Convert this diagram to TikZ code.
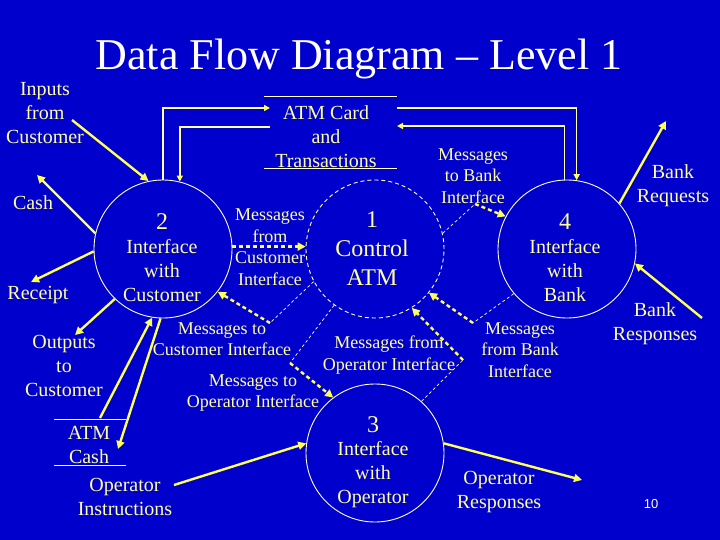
\documentclass[tikz,border=0pt]{standalone}
\usepackage{fontspec}
\setmainfont{Liberation Serif}
\newfontfamily\numfont{Liberation Sans}
\usetikzlibrary{arrows.meta}
\definecolor{bgblue}{RGB}{0,0,204}
\definecolor{txtc}{RGB}{255,255,153}
\definecolor{arrc}{RGB}{255,255,90}
\definecolor{circc}{RGB}{255,255,210}
\begin{document}
\begin{tikzpicture}[x=1pt,y=-1pt,
  lbl/.style={text=txtc, align=center, inner sep=0pt, font=\fontsize{20}{24}\selectfont},
  msg/.style={text=txtc, align=center, inner sep=0pt, font=\fontsize{18}{21.5}\selectfont},
  big/.style={text=txtc, align=center, inner sep=0pt, font=\fontsize{24}{29}\selectfont},
  proc/.style={circle, draw=circc, line width=0.9pt, minimum size=138pt, inner sep=0pt},
  flow/.style={draw=arrc, line width=2.4pt, -{Triangle[length=8pt,width=8pt]}},
  sflow/.style={draw=txtc, line width=1.6pt, -{Triangle[length=6pt,width=6pt,color=arrc]}},
  dflow/.style={draw=arrc, line width=2.4pt, dash pattern=on 4pt off 3pt, -{Triangle[length=8pt,width=8pt]}},
  leader/.style={draw=circc, line width=0.7pt, dash pattern=on 3pt off 2.5pt},
  storeline/.style={draw=circc, line width=0.9pt}]
\fill[bgblue] (0,0) rectangle (720,540);
\useasboundingbox (0,0) rectangle (720,540);

% title
\node[text=white, inner sep=0pt, font=\fontsize{44}{50}\selectfont] (title) at (359,59) {Data Flow Diagram -- Level 1};

% processes
\node[proc] (c2) at (163,249) {};
\node[proc, dash pattern=on 4pt off 3pt] (c1) at (375,249) {};
\node[proc] (c4) at (567,249) {};
\node[proc] (c3) at (375,453) {};

\node[big] (t2n) at (162,222) {2};
\node[lbl] (t2) at (162,271) {Interface\\with\\Customer};
\node[big] (t1) at (372,249) {1\\Control\\ATM};
\node[big] (t4n) at (565,222) {4};
\node[lbl] (t4) at (565,271) {Interface\\with\\Bank};
\node[big] (t3n) at (373,425) {3};
\node[lbl] (t3) at (373,475) {Interface\\with\\Operator};

% data stores
\node[lbl] (s1) at (326,137) {ATM Card\\and\\Transactions};
\draw[storeline] (264,96) -- (397,96);
\draw[storeline] (264,168) -- (397,168);
\node[lbl] (s2) at (89,445) {ATM\\Cash};
\draw[storeline] (54,419) -- (126,419);
\draw[storeline] (54,465) -- (126,465);

% external labels
\node[lbl] (inp) at (45,113) {Inputs\\from\\Customer};
\node[lbl] (cash) at (33,203) {Cash};
\node[lbl] (rec) at (38,295) {Receipt};
\node[lbl] (outp) at (64,366) {Outputs\\to\\Customer};
\node[lbl] (opi) at (125,497) {Operator\\Instructions};
\node[lbl] (opr) at (499,492) {Operator\\Responses};
\node[lbl] (breq) at (673,186) {Bank\\Requests};
\node[lbl] (bres) at (655,324) {Bank\\Responses};
\node[text=white, inner sep=0pt, font=\numfont\fontsize{13}{15}\selectfont] (pg) at (651,504) {10};

% message labels
\node[msg] (m1t) at (270,247) {Messages\\from\\Customer\\Interface};
\node[msg] (m2t) at (222,339) {Messages to\\Customer Interface};
\node[msg] (m3t) at (253,393) {Messages to\\Operator Interface};
\node[msg] (m4t) at (389,355) {Messages from\\Operator Interface};
\node[msg] (m5t) at (520,350) {Messages\\from Bank\\Interface};
\node[msg] (m6t) at (473,176) {Messages\\to Bank\\Interface};

% coordinates
\coordinate (pInp) at (72,120);
\coordinate (pCash) at (37,175);
\coordinate (pRec) at (31,282);
\coordinate (pOut) at (75,335);
\coordinate (pS2in) at (100,418);
\coordinate (pS2out) at (118,449);
\coordinate (pOpi) at (174,485);
\coordinate (pOpr) at (582,480);
\coordinate (pBreq) at (666,121);
\coordinate (pBres) at (702,318);
\coordinate (a1) at (270,108);
\coordinate (b1) at (270,127);
\coordinate (a2) at (397,108);
\coordinate (b2) at (397,126);
\coordinate (m1) at (270,323);
\coordinate (m2) at (290,363);
\coordinate (m3) at (463,360);
\coordinate (m4) at (473,323);
\coordinate (m5) at (475,204);

% external flows
\draw[flow] (pInp) -- (c2.102);
\draw[flow] (c2.167) -- (pCash);
\draw[flow] (c2.182) -- (pRec);
\draw[flow] (c2.226) -- (pOut);
\draw[flow] (pS2in) -- (c2.261);
\draw[flow] (c2.268) -- (pS2out);
\draw[flow] (pOpi) -- (c3.172);
\draw[flow] (c3.8) -- (pOpr);
\draw[flow] (c4.41) -- (pBreq);
\draw[flow] (pBres) -- (c4.348);

% store connections
\draw[sflow] (c2.north) |- (a1);
\draw[sflow] (b1) -| (c2.76);
\draw[sflow] (a2) -| (c4.82.5);
\draw[sflow] (c4.92.5) |- (b2);

% control flows
\draw[dflow] (c2.2) -- (c1.178);
\draw[leader] (c1.208.7) -- (m1);
\draw[dflow] (m1) -- (c2.322);
\draw[leader] (c1.234.5) -- (m2);
\draw[dflow] (m2) -- (c3.127.8);
\draw[leader] (c3.48.9) -- (m3);
\draw[dflow] (m3) -- (c1.302);
\draw[leader] (c4.220.4) -- (m4);
\draw[dflow] (m4) -- (c1.321.6);
\draw[leader] (c1.13) -- (m5);
\draw[dflow] (m5) -- (c4.152);
\end{tikzpicture}
\end{document}
